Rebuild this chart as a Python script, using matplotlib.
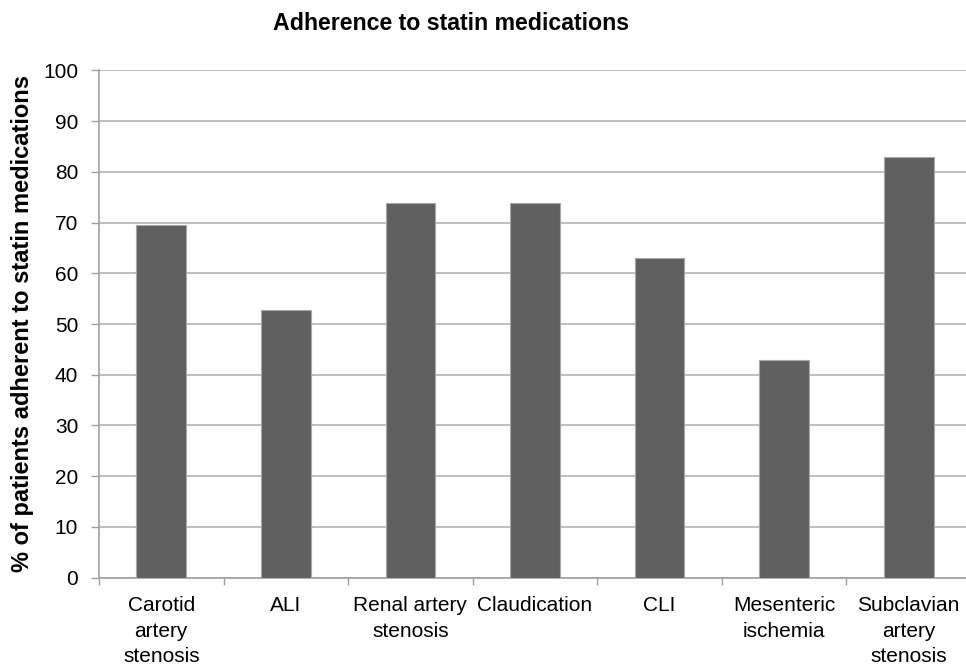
import matplotlib
matplotlib.use("Agg")
import matplotlib.pyplot as plt
import numpy as np

plt.rcParams['font.family'] = ['Liberation Sans', 'DejaVu Sans']

categories = ["Carotid\nartery\nstenosis", "ALI", "Renal artery\nstenosis",
              "Claudication", "CLI", "Mesenteric\nischemia",
              "Subclavian\nartery\nstenosis"]
adherence = [69.6, 52.8, 73.9, 73.9, 63.0, 43.0, 83.0]
yticks = [0, 10, 20, 30, 40, 50, 60, 70, 80, 90, 100]

W, H = 966, 666
fig = plt.figure(figsize=(W / 100, H / 100), dpi=100)
left, right, bottom, top = 99, 971, 577.7, 70.3
ax = fig.add_axes([left / W, 1 - bottom / H, (right - left) / W, (bottom - top) / H])

x = np.arange(len(categories))
ax.bar(x, adherence, width=0.4, color="#606060", edgecolor="#a8a8a8",
       linewidth=0.8, zorder=3)

ax.set_xlim(-0.5, len(categories) - 0.5)
ax.set_ylim(0, 100)
ax.set_yticks(yticks)
ax.yaxis.grid(True, color="#b4b4b4", linewidth=1.2, zorder=0)

ax.set_xticks(x)
ax.set_xticklabels(categories, fontsize=15, linespacing=1.42)
ax.set_xticks(np.arange(len(categories) + 1) - 0.5, minor=True)
ax.tick_params(axis="x", which="major", length=0, pad=13.5)
ax.tick_params(axis="x", which="minor", length=5, width=1, color="#a0a0a0", direction="out")
ax.tick_params(axis="y", length=6, width=1, color="#a0a0a0", direction="out",
               labelsize=15, pad=9)

for side in ("top", "right"):
    ax.spines[side].set_visible(False)
for side in ("left", "bottom"):
    ax.spines[side].set_color("#a0a0a0")
    ax.spines[side].set_linewidth(1.2)

fig.text(451 / W, 1 - 23 / H, "Adherence to statin medications",
         ha="center", va="center", fontsize=16.7, fontweight="bold")
fig.text(23 / W, 1 - 324 / H, "% of patients adherent to statin medications",
         ha="center", va="center", rotation=90, fontsize=17, fontweight="bold")

fig.savefig("out.png", dpi=100)
